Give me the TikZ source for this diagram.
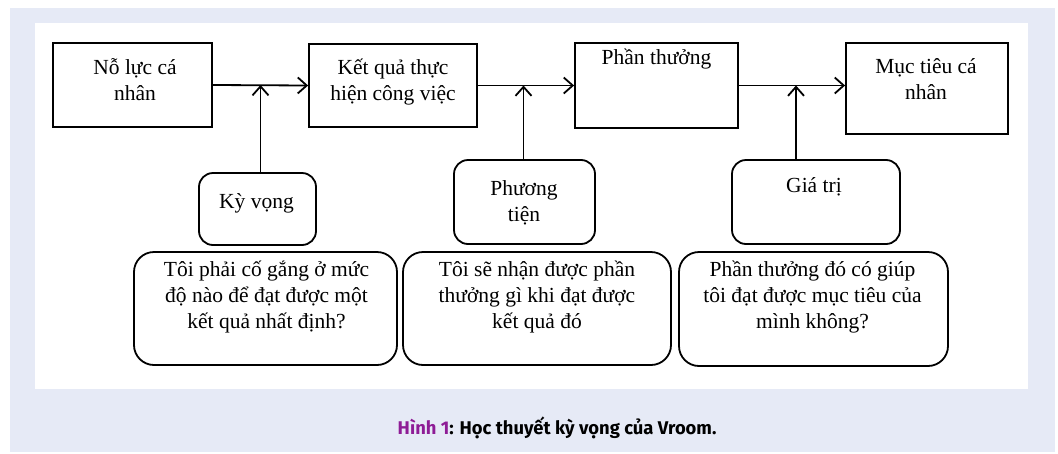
\documentclass[tikz,border=0pt]{standalone}
\usepackage{fontspec}
\setmainfont{Liberation Serif}
\newfontfamily\capfont{Fira Sans}
\usepackage{tikz}
\usetikzlibrary{arrows.meta}
\definecolor{pagebg}{RGB}{230,234,246}
\definecolor{figpurple}{RGB}{142,28,150}

\begin{document}
\begin{tikzpicture}[x=1pt, y=-1pt,
    every node/.style={font=\fontsize{21.5}{26}\selectfont},
    box/.style={draw, line width=1.8pt, inner sep=0pt},
    soft/.style={box, rounded corners=14pt},
    ask/.style={box, rounded corners=20pt},
    txt/.style={align=center, anchor=base, inner sep=0pt},
    flow/.style={line width=1.8pt, -{Straight Barb[length=9pt, width=16pt, line width=1.8pt]}}]
    \useasboundingbox (0,0) rectangle (1058,453);
    % Background
    \fill[pagebg] (10,8) rectangle (1055,452);
    \fill[white] (35,23) rectangle (1028,389);

    % Chain of boxes
    \node[box, minimum width=159pt, minimum height=84pt] (nl) at (132.5,85) {};
    \node[box, minimum width=168pt, minimum height=83pt] (kq) at (393,85.5) {};
    \node[box, minimum width=163pt, minimum height=85pt] (pt) at (656.5,85.5) {};
    \node[box, minimum width=162pt, minimum height=91pt] (mt) at (927,88.5) {};
    % (base = last line)
    \node[txt] (nltext) at (135,100) {Nỗ lực cá\\nhân};
    \node[txt] (kqtext) at (393,100) {Kết quả thực\\hiện công việc};
    \node[txt] (pttext) at (656.5,64) {Phần thưởng};
    \node[txt] (mttext) at (926,99) {Mục tiêu cá\\nhân};

    % Factors
    \node[soft, minimum width=117pt, minimum height=72pt] (kv) at (257.5,209) {};
    \node[soft, minimum width=141pt, minimum height=84pt] (ph) at (524.5,202) {};
    \node[soft, minimum width=168pt, minimum height=84pt] (gt) at (816,202) {};
    \node[txt] (kvtext) at (256.5,208) {Kỳ vọng};
    \node[txt] (phtext) at (524,221) {Phương\\tiện};
    \node[txt] (gttext) at (814,192) {Giá trị};

    % Questions
    \node[ask, minimum width=263pt, minimum height=113pt] (qa) at (265.5,308.5) {};
    \node[ask, minimum width=268pt, minimum height=113pt] (qb) at (537,308.5) {};
    \node[ask, minimum width=269pt, minimum height=114pt] (qc) at (813.5,309) {};
    \node[txt] (qatext) at (266.5,328) {Tôi phải cố gắng ở mức\\độ nào để đạt được một\\kết quả nhất định?};
    \node[txt] (qbtext) at (537,328) {Tôi sẽ nhận được phần\\thưởng gì khi đạt được\\kết quả đó};
    \node[txt] (qctext) at (812.5,328) {Phần thưởng đó có giúp\\tôi đạt được mục tiêu của\\mình không?};

    % Arrows
    \draw[flow] (nl.east) -- (kq.west);
    \draw[flow] (kq.east) -- (pt.west);
    \draw[flow] (pt.east) -- (pt.east -| mt.west);
    \draw[flow] ([xshift=3pt]kv.north) -- ([xshift=3pt]kv.north |- nl.east);
    \draw[flow] ([xshift=-1pt]ph.north) -- ([xshift=-1pt]ph.north |- kq.east);
    \draw[flow] ([xshift=-20pt]gt.north) -- ([xshift=-20pt]gt.north |- pt.east);

    % Caption
    \node[anchor=base, font=\capfont\bfseries\fontsize{18.4}{22}\selectfont] (cap) at (557,434)
        {\textcolor{figpurple}{Hình 1}: Học thuyết kỳ vọng của Vroom.};
\end{tikzpicture}
\end{document}
